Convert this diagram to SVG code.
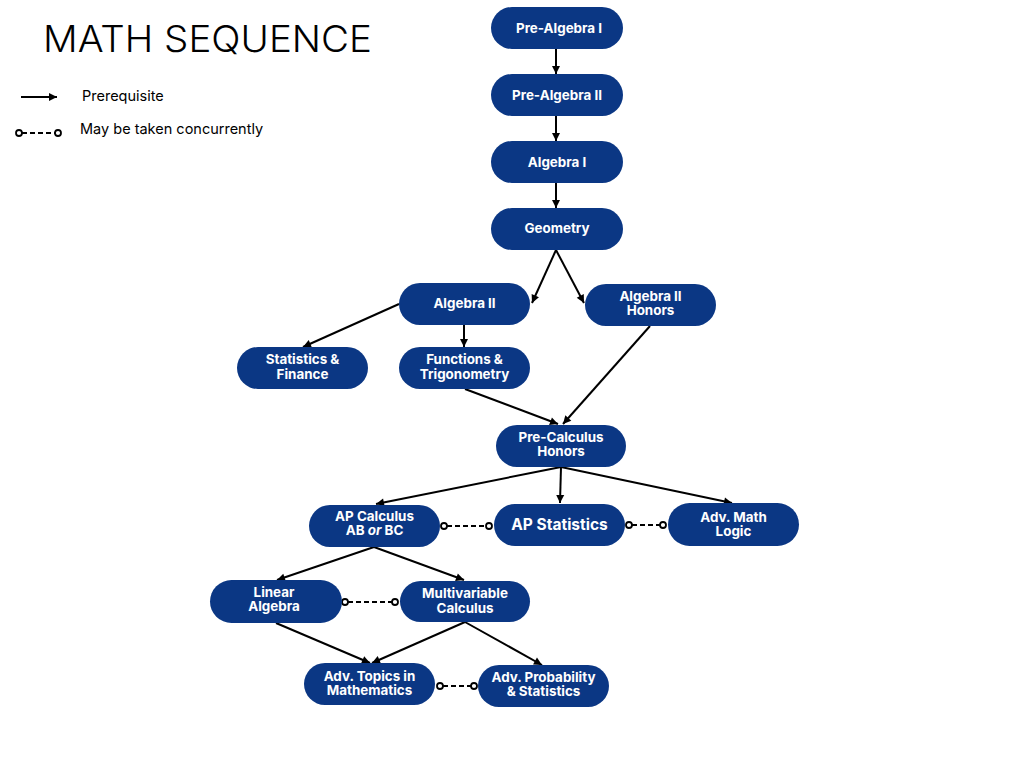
<svg xmlns="http://www.w3.org/2000/svg" width="1024" height="768" viewBox="0 0 1024 768">
<defs>
<marker id="ah" markerWidth="10" markerHeight="10" refX="9" refY="5" orient="auto" markerUnits="userSpaceOnUse">
<path d="M1,1 L9,5 L1,9 Z" fill="#000"/>
</marker>
<style>
.node rect{fill:#0b3784;}
.node text{fill:#fff;font-family:Inter,"Noto Sans",sans-serif;font-weight:700;font-size:13.4px;text-anchor:middle;}
.conn line{stroke:#000;stroke-width:2;fill:none;}
.arr{marker-end:url(#ah);}
.dash{stroke-dasharray:5 3;}
.dot{fill:#fff;stroke:#000;stroke-width:1.8;}
.title{font-family:Inter,"Noto Sans",sans-serif;font-weight:300;font-size:37px;fill:#000;}
.leg{font-family:Inter,"Noto Sans",sans-serif;font-size:14.5px;fill:#000;}
</style>
</defs>
<rect width="1024" height="768" fill="#fff"/>
<text class="title" x="43" y="52" textLength="329" lengthAdjust="spacingAndGlyphs">MATH SEQUENCE</text>
<g id="legend">
<line x1="21" y1="97" x2="57" y2="97" stroke="#000" stroke-width="2" marker-end="url(#ah)"/>
<text class="leg" x="82" y="101">Prerequisite</text>
<line x1="22" y1="133" x2="55" y2="133" stroke="#000" stroke-width="2" class="dash"/>
<circle class="dot" cx="19" cy="133" r="3"/>
<circle class="dot" cx="58" cy="133" r="3"/>
<text class="leg" x="80" y="134">May be taken concurrently</text>
</g>
<g id="connectors" class="conn">
<line class="arr" x1="556" y1="49" x2="556" y2="74"/>
<line class="arr" x1="556" y1="116" x2="556" y2="141"/>
<line class="arr" x1="556" y1="183" x2="556" y2="208"/>
<line class="arr" x1="556" y1="250" x2="532" y2="303"/>
<line class="arr" x1="556" y1="250" x2="584" y2="303"/>
<line class="arr" x1="399" y1="304" x2="303" y2="347"/>
<line class="arr" x1="464" y1="325" x2="464" y2="347"/>
<line class="arr" x1="465" y1="389" x2="558" y2="424"/>
<line class="arr" x1="650" y1="326" x2="563" y2="424"/>
<line class="arr" x1="561" y1="467" x2="376" y2="504"/>
<line class="arr" x1="561" y1="467" x2="560" y2="503"/>
<line class="arr" x1="561" y1="467" x2="732" y2="503"/>
<line class="arr" x1="374" y1="547" x2="277" y2="580"/>
<line class="arr" x1="374" y1="547" x2="464" y2="580"/>
<line class="arr" x1="276" y1="623" x2="370" y2="663"/>
<line class="arr" x1="465" y1="622" x2="372" y2="663"/>
<line class="arr" x1="465" y1="622" x2="542" y2="665"/>
<line class="dash" x1="447" y1="526" x2="486" y2="526"/>
<line class="dash" x1="632" y1="525" x2="660" y2="525"/>
<line class="dash" x1="348" y1="602" x2="392" y2="602"/>
<line class="dash" x1="443" y1="686" x2="471" y2="686"/>
<circle class="dot" cx="444" cy="526" r="3"/>
<circle class="dot" cx="489" cy="526" r="3"/>
<circle class="dot" cx="629" cy="525" r="3"/>
<circle class="dot" cx="663" cy="525" r="3"/>
<circle class="dot" cx="345" cy="602" r="3"/>
<circle class="dot" cx="395" cy="602" r="3"/>
<circle class="dot" cx="440" cy="686" r="3"/>
<circle class="dot" cx="474" cy="686" r="3"/>
</g>
<g id="prealg1" class="node"><rect x="491" y="7" width="132" height="42" rx="21"/><text x="559" y="33">Pre-Algebra I</text></g>
<g id="prealg2" class="node"><rect x="491" y="74" width="132" height="42" rx="21"/><text x="557" y="100">Pre-Algebra II</text></g>
<g id="alg1" class="node"><rect x="491" y="141" width="132" height="42" rx="21"/><text x="557" y="167">Algebra I</text></g>
<g id="geometry" class="node"><rect x="491" y="208" width="132" height="42" rx="21"/><text x="557" y="233">Geometry</text></g>
<g id="alg2" class="node"><rect x="399" y="283" width="131" height="42" rx="21"/><text x="464.5" y="308">Algebra II</text></g>
<g id="alg2h" class="node"><rect x="585" y="284" width="131" height="42" rx="21"/><text x="650.5" y="301">Algebra II</text><text x="650.5" y="315">Honors</text></g>
<g id="statfin" class="node"><rect x="237" y="347" width="131" height="42" rx="21"/><text x="302.5" y="364">Statistics &amp;</text><text x="302.5" y="379">Finance</text></g>
<g id="functrig" class="node"><rect x="399" y="347" width="131" height="42" rx="21"/><text x="464.5" y="364">Functions &amp;</text><text x="464.5" y="379">Trigonometry</text></g>
<g id="precalc" class="node"><rect x="496" y="425" width="130" height="42" rx="21"/><text x="561" y="442">Pre-Calculus</text><text x="561" y="456">Honors</text></g>
<g id="apcalc" class="node"><rect x="309" y="505" width="131" height="42" rx="21"/><text x="374.5" y="521">AP Calculus</text><text x="374.5" y="535">AB <tspan font-style="italic">or</tspan> BC</text></g>
<g id="apstat" class="node"><rect x="494" y="504" width="131" height="42" rx="21"/><text x="559.5" y="530" style="font-size:15.5px">AP Statistics</text></g>
<g id="advlogic" class="node"><rect x="668" y="503" width="131" height="43" rx="21.5"/><text x="733.5" y="522">Adv. Math</text><text x="733.5" y="536">Logic</text></g>
<g id="linalg" class="node"><rect x="210" y="580" width="132" height="43" rx="21.5"/><text x="274" y="597">Linear</text><text x="274" y="611">Algebra</text></g>
<g id="multivar" class="node"><rect x="400" y="581" width="130" height="41" rx="20.5"/><text x="465" y="598">Multivariable</text><text x="465" y="613">Calculus</text></g>
<g id="advtopics" class="node"><rect x="304" y="663" width="131" height="42" rx="21"/><text x="369.5" y="680.5">Adv. Topics in</text><text x="369.5" y="694.5">Mathematics</text></g>
<g id="advprob" class="node"><rect x="478" y="665" width="131" height="42" rx="21"/><text x="543.5" y="682">Adv. Probability</text><text x="543.5" y="696">&amp; Statistics</text></g>
</svg>
